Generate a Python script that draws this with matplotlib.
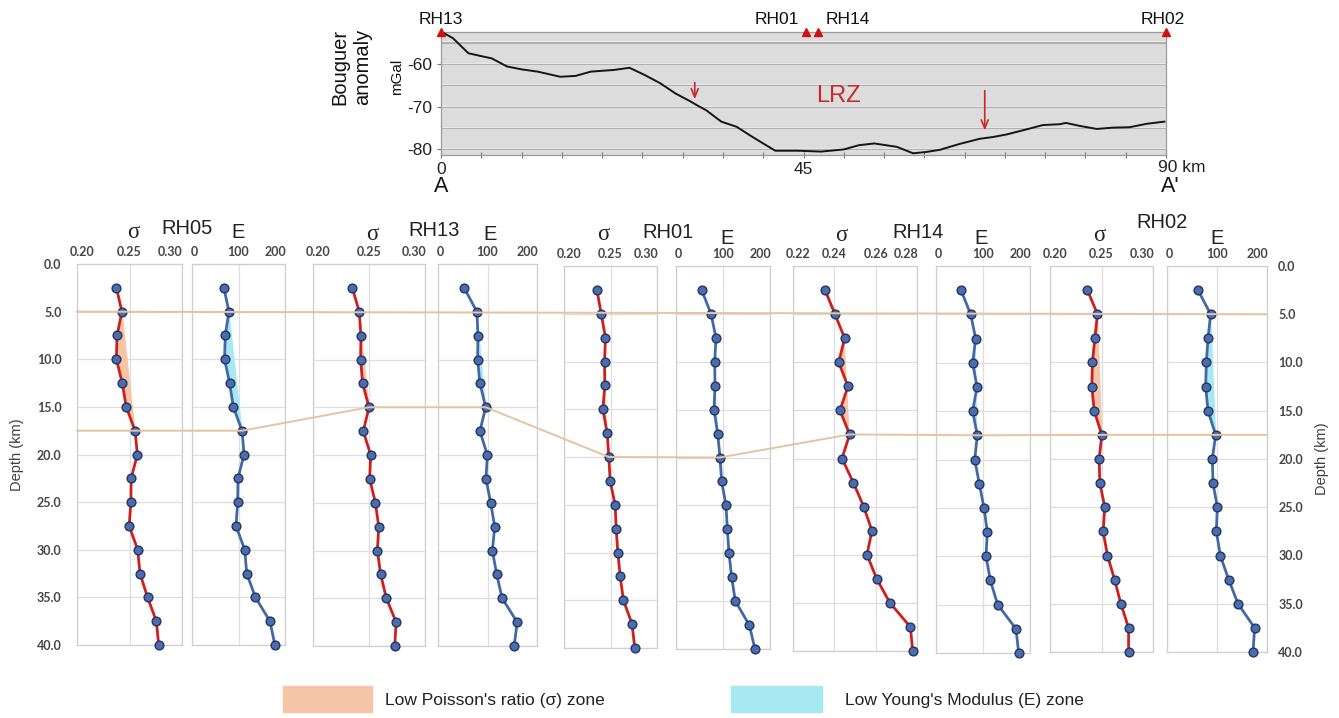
import numpy as np
import matplotlib
matplotlib.use("Agg")
import matplotlib.pyplot as plt
from matplotlib.lines import Line2D
from matplotlib.patches import Rectangle
from matplotlib.transforms import ScaledTranslation

# ---------------- data ----------------
profile_km = [0.0, 1.5, 3.4, 5.3, 6.3, 8.2, 10.1, 12.0, 14.8, 16.7, 18.6, 21.5, 23.4,
              25.3, 27.2, 29.1, 31.0, 31.9, 32.9, 34.8, 36.7, 38.6, 40.0, 41.5, 44.3,
              47.2, 50.0, 51.9, 53.8, 56.6, 58.6, 60.2, 61.9, 64.4, 66.9, 68.5, 70.2,
              72.7, 74.7, 76.8, 77.6, 79.3, 81.4, 83.4, 85.5, 87.6, 89.8]
profile_mgal = [-52.4, -54.0, -57.5, -58.3, -58.7, -60.6, -61.3, -61.8, -63.0, -62.8, -61.8,
                -61.4, -60.9, -62.6, -64.5, -66.9, -68.8, -69.8, -70.8, -73.5, -74.7, -77.0,
                -78.6, -80.3, -80.3, -80.5, -80.0, -79.0, -78.6, -79.4, -80.9, -80.6, -80.1,
                -78.7, -77.5, -77.1, -76.5, -75.3, -74.3, -74.1, -73.8, -74.5, -75.2, -74.9,
                -74.8, -74.0, -73.5]
station_names = ["RH13", "RH01", "RH14", "RH02"]
station_km = [0.0, 45.3, 46.8, 90.0]
arrow_km = [31.5, 67.5]
arrow_from_mgal = [-63.7, -65.6]
arrow_to_mgal = [-68.9, -76.2]

depth_km = [2.5, 5.0, 7.5, 10.0, 12.5, 15.0, 17.5, 20.0, 22.5, 25.0, 27.5, 30.0,
            32.5, 35.0, 37.5, 40.0]
wells = ["RH05", "RH13", "RH01", "RH14", "RH02"]

sigma_RH05 = [0.2375, 0.2428, 0.2381, 0.2375, 0.2431, 0.2469, 0.2553, 0.2575,
              0.2516, 0.2513, 0.2497, 0.2578, 0.2600, 0.2672, 0.2756, 0.2778]
E_RH05 = [68.6, 79.4, 71.5, 70.0, 80.9, 88.8, 107.6, 111.9, 98.9, 98.2, 94.6,
          113.4, 117.7, 136.5, 167.5, 178.3]
sigma_RH13 = [0.2351, 0.2413, 0.2428, 0.2425, 0.2443, 0.2500, 0.2449, 0.2515,
              0.2506, 0.2557, 0.2587, 0.2575, 0.2604, 0.2655, 0.2742, 0.2730]
E_RH13 = [52.9, 78.6, 80.7, 80.0, 84.7, 96.3, 84.7, 99.7, 96.9, 106.4, 114.6,
          109.8, 118.6, 129.5, 160.0, 153.9]
sigma_RH01 = [0.2354, 0.2400, 0.2446, 0.2436, 0.2439, 0.2418, 0.2464, 0.2482,
              0.2496, 0.2550, 0.2561, 0.2579, 0.2604, 0.2639, 0.2732, 0.2761]
E_RH01 = [54.6, 74.5, 85.1, 82.3, 83.0, 80.9, 88.7, 93.6, 97.2, 106.4, 109.2,
          112.8, 118.4, 126.2, 156.0, 168.0]
sigma_RH14 = [0.2355, 0.2403, 0.2450, 0.2421, 0.2466, 0.2427, 0.2474, 0.2437,
              0.2492, 0.2542, 0.2582, 0.2558, 0.2605, 0.2669, 0.2768, 0.2779]
E_RH14 = [53.2, 73.8, 84.4, 78.0, 87.2, 78.0, 87.9, 82.3, 92.2, 102.1, 109.2,
          106.4, 115.6, 131.2, 170.2, 175.9]
sigma_RH02 = [0.2364, 0.2461, 0.2435, 0.2412, 0.2406, 0.2429, 0.2503, 0.2477,
              0.2484, 0.2532, 0.2516, 0.2558, 0.2627, 0.2688, 0.2763, 0.2763]
E_RH02 = [62.0, 87.3, 82.0, 78.7, 77.3, 82.0, 97.3, 90.7, 92.0, 100.7, 98.7,
          106.7, 123.3, 142.0, 175.3, 172.0]

sigma_series = [sigma_RH05, sigma_RH13, sigma_RH01, sigma_RH14, sigma_RH02]
E_series = [E_RH05, E_RH13, E_RH01, E_RH14, E_RH02]

sigma_ticks = [[0.20, 0.25, 0.30], [0.20, 0.25, 0.30], [0.20, 0.25, 0.30],
               [0.22, 0.24, 0.26, 0.28], [0.20, 0.25, 0.30]]
E_ticks = [0, 100, 200]
depth_ticks = [0.0, 5.0, 10.0, 15.0, 20.0, 25.0, 30.0, 35.0, 40.0]

zone_top_km = [5.0, 5.0, 5.0, 7.5, 5.0]
zone_bottom_km = [17.5, 15.0, 20.0, 17.5, 17.5]
upper_boundary_km = 5.0

legend_labels = ["Low Poisson's ratio (\u03c3) zone", "Low Young's Modulus (E) zone"]

# ---------------- styling / layout ----------------
W, H = 1339, 718
fig = plt.figure(figsize=(W / 100, H / 100), dpi=100)
fig.patch.set_facecolor("white")

SANS = ["Liberation Sans", "DejaVu Sans"]
TICKF = ["Lato", "DejaVu Sans"]
PINK = "#f6c4a6"
CYAN = "#a6e9f3"
RED = "#cf1f1c"
BLUE = "#4169a8"
MFC = "#4a6db0"
MEC = "#24345e"
TAN = "#e6c3a2"


def ax_px(x0, x1, y0, y1):
    return fig.add_axes([x0 / W, 1 - y1 / H, (x1 - x0) / W, (y1 - y0) / H])


def ftext(x, y, s, **kw):
    return fig.text(x / W, 1 - y / H, s, **kw)


def shift(artist, dx_px):
    artist.set_transform(artist.get_transform() +
                         ScaledTranslation(dx_px / 100, 0, fig.dpi_scale_trans))


# ---------------- top profile ----------------
axp = ax_px(441, 1166, 32.3, 155)
axp.set_facecolor("#dcdcdc")
axp.set_xlim(0, 90)
axp.set_ylim(-81.3, -52.6)
for v in [-55, -60, -65, -70, -75, -80]:
    axp.axhline(v, color="#a3a3a3", lw=1.1, zorder=1)
    axp.axhline(v + 0.25, color="#f2f2f2", lw=0.6, zorder=1)
axp.plot(profile_km, profile_mgal, color="#151515", lw=1.4, zorder=3)
for s in axp.spines.values():
    s.set_color("#9a9a9a")
    s.set_linewidth(0.9)
axp.set_yticks([-60, -70, -80])
axp.set_yticklabels(["-60", "-70", "-80"], fontsize=12.5, family=SANS, color="#222222")
axp.tick_params(axis="y", length=3, pad=3, color="#777777")
axp.set_xticks(np.arange(0, 91, 5))
axp.set_xticklabels(["0" if t == 0 else ("45" if t == 45 else "") for t in np.arange(0, 91, 5)],
                    fontsize=12.5, family=SANS, color="#222222")
axp.tick_params(axis="x", length=4, direction="inout", pad=3, color="#777777")
axp.annotate("90 km", xy=(90, 0), xycoords=("data", "axes fraction"), xytext=(-6, -3.5),
             textcoords="offset points", ha="left", va="top", fontsize=12.5, family=SANS,
             color="#222222", annotation_clip=False)
axp.plot(station_km, [-52.6] * len(station_km), ls="none", marker="^", ms=5.5,
         color="#d01010", clip_on=False, zorder=5)
st_label_dx = [0, -29, 30, -3]
for nm, km, dx in zip(station_names, station_km, st_label_dx):
    axp.annotate(nm, xy=(km, 1), xycoords=("data", "axes fraction"), xytext=(dx * 0.72, 4),
                 textcoords="offset points", ha="center", va="bottom", fontsize=12.5,
                 family=SANS, color="#111111", annotation_clip=False)
for km, y0, y1 in zip(arrow_km, arrow_from_mgal, arrow_to_mgal):
    axp.annotate("", xy=(km, y1), xytext=(km, y0),
                 arrowprops=dict(arrowstyle="->,head_length=0.6,head_width=0.25",
                                 color="#c8282a", lw=1.2), zorder=6)
axp.text(49.3, -67.6, "LRZ", color="#c8282a", fontsize=17, family=SANS, ha="center", va="center")
ftext(351, 67, "Bouguer\nanomaly", rotation=90, ha="center", va="center", fontsize=14.5,
      family=SANS, color="#111111", linespacing=1.25)
ftext(397, 77, "mGal", rotation=90, ha="center", va="center", fontsize=11, family=SANS,
      color="#111111")
ftext(441, 187, "A", ha="center", va="center", fontsize=15.5, family=SANS, color="#111111")
ftext(1170, 187, "A'", ha="center", va="center", fontsize=15.5, family=SANS, color="#111111")

# ---------------- well panels ----------------
sig_px = [(77, 182), (313, 425), (564, 657), (793, 917), (1050, 1153)]
E_px = [(192, 285), (438, 537), (676, 770), (936, 1030), (1167, 1267)]
top_px = [264, 264, 266, 266, 266]
bot_sig_px = [645, 646, 648, 651, 652]
bot_E_px = [645, 646, 649, 653, 652]
sig_title = [(133, 232), (372, 234), (603, 235), (841, 236), (1099, 236)]
name_title = [(187, 228), (434, 230), (668, 233), (918, 233), (1162, 222)]
E_title = [(238, 232), (490, 234), (727, 238), (981, 238), (1217, 238)]

depth = np.array(depth_km)


def style_panel(ax, xlim, xticks, labels, first_dx):
    ax.set_xlim(*xlim)
    ax.set_ylim(40, 0)
    ax.xaxis.tick_top()
    ax.set_xticks(xticks)
    ax.set_xticklabels(labels)
    ax.set_yticks(depth_ticks)
    ax.grid(True, color="#dedede", lw=0.9, zorder=0)
    ax.set_axisbelow(True)
    for s in ax.spines.values():
        s.set_color("#cfcfcf")
        s.set_linewidth(0.9)
    ax.tick_params(length=0, labelsize=9, labelcolor="#454545", pad=4)
    labs = ax.get_xticklabels()
    for lab in labs:
        lab.set_family(TICKF)
        lab.set_fontweight("bold")
    labs[-1].set_ha("right")
    shift(labs[-1], 1)
    shift(labs[0], first_dx)


def zone_fill(ax, vals, top, bot, color):
    v = np.array(vals)
    m = (depth >= top) & (depth <= bot)
    dd, vv = depth[m], v[m]
    chord = np.interp(dd, [dd[0], dd[-1]], [vv[0], vv[-1]])
    ax.fill_betweenx(dd, vv, chord, where=vv <= chord + 1e-12, interpolate=True,
                     color=color, lw=0, zorder=1)


sig_axes, E_axes = [], []
for i, w in enumerate(wells):
    axs = ax_px(sig_px[i][0], sig_px[i][1], top_px[i], bot_sig_px[i])
    axe = ax_px(E_px[i][0], E_px[i][1], top_px[i], bot_E_px[i])
    st = sigma_ticks[i]
    style_panel(axs, (st[0], st[-1]), st, [f"{t:.2f}" for t in st], 5)
    style_panel(axe, (0, 200), E_ticks, [str(t) for t in E_ticks], 2)
    zone_fill(axs, sigma_series[i], zone_top_km[i], zone_bottom_km[i], PINK)
    zone_fill(axe, E_series[i], zone_top_km[i], zone_bottom_km[i], CYAN)
    axs.plot(sigma_series[i], depth_km, color=RED, lw=2.0, zorder=3,
             marker="o", ms=6.3, mfc=MFC, mec=MEC, mew=1.0, clip_on=False)
    axe.plot(E_series[i], depth_km, color=BLUE, lw=2.0, zorder=3,
             marker="o", ms=6.3, mfc=MFC, mec=MEC, mew=1.0, clip_on=False)
    axs.set_yticklabels([])
    axe.set_yticklabels([])
    sig_axes.append(axs)
    E_axes.append(axe)
    ftext(*sig_title[i], "\u03c3", ha="center", va="center", fontsize=16.5,
          family=["Liberation Serif", "DejaVu Serif"], color="#222222")
    ftext(*name_title[i], w, ha="center", va="center", fontsize=14.5, family=SANS, color="#222222")
    ftext(*E_title[i], "E", ha="center", va="center", fontsize=14.5, family=SANS, color="#222222")

# depth labels (left and right)
axL = sig_axes[0]
axL.set_yticklabels([f"{t:.1f}" for t in depth_ticks])
axL.tick_params(axis="y", pad=11)
for lab in axL.get_yticklabels():
    lab.set_family(TICKF)
    lab.set_fontweight("bold")
axL.set_ylabel("Depth (km)", fontsize=10.5, family=SANS, color="#404040", labelpad=9)

axR = E_axes[-1]
axR.yaxis.tick_right()
axR.set_yticklabels([f"{t:.1f}" for t in depth_ticks])
axR.tick_params(axis="y", pad=8)
for lab in axR.get_yticklabels():
    lab.set_family(TICKF)
    lab.set_fontweight("bold")
axR.yaxis.set_label_position("right")
axR.set_ylabel("Depth (km)", fontsize=10.5, family=SANS, color="#404040", labelpad=9)

# ---------------- zone boundary correlation lines ----------------
inv = fig.transFigure.inverted()


def to_fig(ax, x, y):
    return inv.transform(ax.transData.transform((x, y)))


p0 = to_fig(sig_axes[0], sig_axes[0].get_xlim()[0], upper_boundary_km)
p1 = to_fig(E_axes[-1], E_axes[-1].get_xlim()[1], upper_boundary_km)
fig.add_artist(Line2D([p0[0], p1[0]], [p0[1], p1[1]], color=TAN, lw=1.4, zorder=5,
                      transform=fig.transFigure))

pts = [to_fig(sig_axes[0], sig_axes[0].get_xlim()[0], zone_bottom_km[0])]
for i in range(len(wells)):
    d = zone_bottom_km[i]
    k = depth_km.index(d)
    pts.append(to_fig(sig_axes[i], sigma_series[i][k], d))
    pts.append(to_fig(E_axes[i], E_series[i][k], d))
pts.append(to_fig(E_axes[-1], E_axes[-1].get_xlim()[1], zone_bottom_km[-1]))
pts = np.array(pts)
fig.add_artist(Line2D(pts[:, 0], pts[:, 1], color=TAN, lw=1.4, zorder=5,
                      transform=fig.transFigure))

# ---------------- legend ----------------
fig.add_artist(Rectangle((283 / W, 1 - 712 / H), 89 / W, 26 / H, color=PINK,
                         transform=fig.transFigure))
ftext(385, 700, legend_labels[0], ha="left", va="center", fontsize=12.5, family=SANS,
      color="#222222")
fig.add_artist(Rectangle((731 / W, 1 - 712 / H), 91 / W, 26 / H, color=CYAN,
                         transform=fig.transFigure))
ftext(845, 700, legend_labels[1], ha="left", va="center", fontsize=12.5, family=SANS,
      color="#222222")

fig.savefig("out.png", dpi=100)
